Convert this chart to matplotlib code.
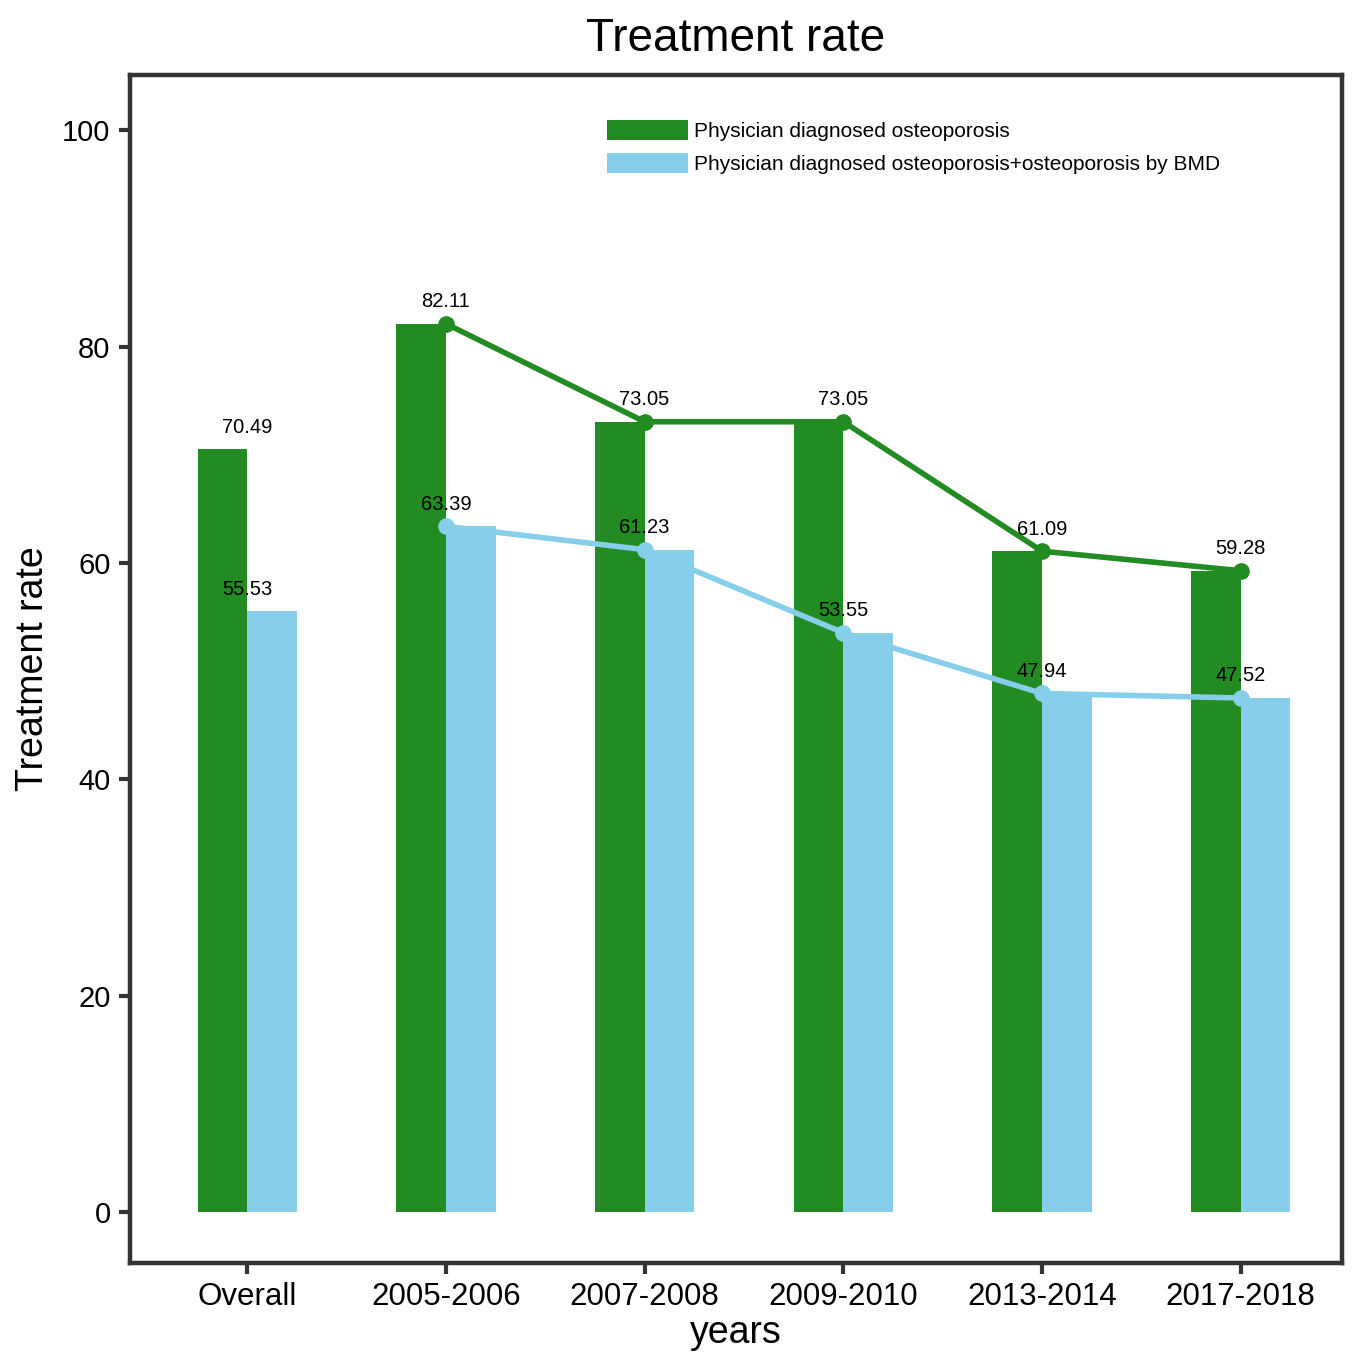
import matplotlib
matplotlib.use("Agg")
import matplotlib.pyplot as plt
import numpy as np

plt.rcParams["font.family"] = ["Liberation Sans", "DejaVu Sans"]

categories = ["Overall", "2005-2006", "2007-2008", "2009-2010", "2013-2014", "2017-2018"]
physician = [70.49, 82.11, 73.05, 73.05, 61.09, 59.28]
physician_bmd = [55.53, 63.39, 61.23, 53.55, 47.94, 47.52]

green = "#228B22"
blue = "#87CEEB"
frame = "#333333"

fig = plt.figure(figsize=(13.64, 13.56), dpi=100)
ax = fig.add_axes([0.0953, 0.0686, 0.8886, 0.8761])

x = np.arange(len(categories))
bar_w = 0.25

ax.bar(x - bar_w / 2, physician, width=bar_w, color=green, zorder=2,
       label="Physician diagnosed osteoporosis")
ax.bar(x + bar_w / 2, physician_bmd, width=bar_w, color=blue, zorder=2,
       label="Physician diagnosed osteoporosis+osteoporosis by BMD")

# trend lines only over the survey cycles, not the overall group
ax.plot(x[1:], physician[1:], color=green, lw=4, marker="o", ms=11, zorder=3)
ax.plot(x[1:], physician_bmd[1:], color=blue, lw=4, marker="o", ms=11, zorder=3)

for xi, v in zip(x, physician):
    ax.annotate(f"{v:.2f}", (xi, v), xytext=(0, 9), textcoords="offset points",
                ha="center", va="bottom", fontsize=14.5, zorder=4)
for xi, v in zip(x, physician_bmd):
    ax.annotate(f"{v:.2f}", (xi, v), xytext=(0, 9), textcoords="offset points",
                ha="center", va="bottom", fontsize=14.5, zorder=4)

ax.set_xlim(-0.59, 5.51)
ax.set_ylim(-4.7, 105.1)
ax.set_xticks(x)
ax.set_xticklabels(categories)
ax.set_yticks([0, 20, 40, 60, 80, 100])

ax.tick_params(axis="both", labelsize=21, length=8, width=3, color=frame,
               direction="out", pad=6)
ax.tick_params(axis="x", labelsize=22.5)
for s in ax.spines.values():
    s.set_linewidth(3.2)
    s.set_color(frame)

ax.set_title("Treatment rate", fontsize=33, pad=17)
ax.set_ylabel("Treatment rate", fontsize=27, labelpad=8)
ax.set_xlabel("years", fontsize=27, labelpad=2)

ax.legend(loc="upper left", bbox_to_anchor=(0.3936, 0.962), frameon=False,
          fontsize=15, borderpad=0, borderaxespad=0, handlelength=3.9,
          handleheight=1.1, handletextpad=0.25, labelspacing=0.55)

fig.savefig("out.png", dpi=100)
